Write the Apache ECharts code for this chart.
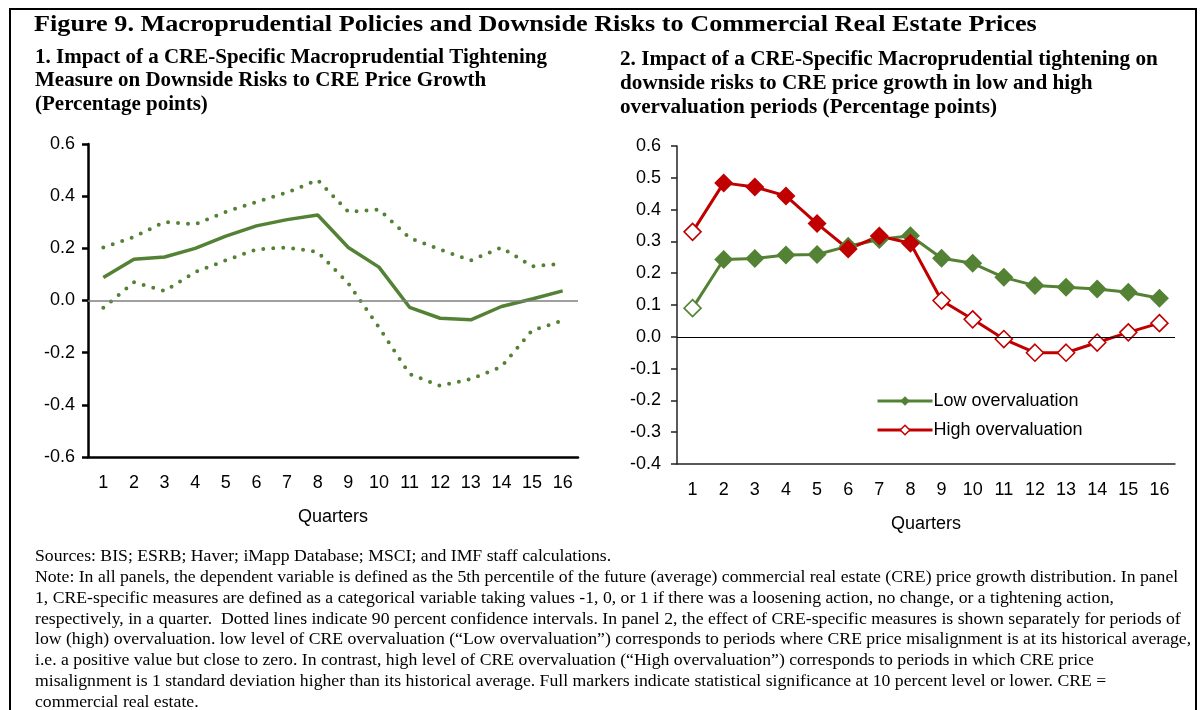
<!DOCTYPE html>
<html>
<head>
<meta charset="utf-8">
<script src="https://cdn.jsdelivr.net/npm/echarts@6/dist/echarts.min.js"></script>
<style>html,body{margin:0;padding:0;background:#fff}#c{width:1204px;height:710px}</style>
</head>
<body>
<div id="c"></div>
<script>
const quarters = ['1','2','3','4','5','6','7','8','9','10','11','12','13','14','15','16'];
// Panel 1
const impact  = [0.088,0.158,0.167,0.200,0.247,0.286,0.310,0.328,0.203,0.128,-0.026,-0.068,-0.074,-0.023,0.006,0.037];
const upperCI = [0.203,0.244,0.301,0.292,0.340,0.378,0.414,0.462,0.340,0.349,0.240,0.195,0.154,0.203,0.131,0.141];
const lowerCI = [-0.028,0.070,0.036,0.109,0.154,0.196,0.203,0.186,0.066,-0.103,-0.282,-0.327,-0.301,-0.254,-0.115,-0.077];
// Panel 2
const lowOver  = [0.090,0.243,0.246,0.257,0.259,0.285,0.306,0.318,0.247,0.231,0.187,0.161,0.156,0.150,0.140,0.121];
const highOver = [0.330,0.484,0.471,0.443,0.356,0.276,0.317,0.294,0.114,0.055,-0.007,-0.050,-0.050,-0.018,0.014,0.043];
const lowSig  = [0,1,1,1,1,1,1,1,1,1,1,1,1,1,1,1];
const highSig = [0,1,1,1,1,1,1,1,0,0,0,0,0,0,0,0];

const GREEN = '#548235', RED = '#C00000';
const chart = echarts.init(document.getElementById('c'));

function markData(vals, sig, color) {
  return vals.map((v, i) => sig[i]
    ? { value: v }
    : { value: v, symbolSize: 17, itemStyle: { color: '#fff', borderColor: color, borderWidth: 1.6 } });
}

const axisFont = { fontFamily: 'Liberation Sans', fontSize: 18, color: '#000' };
const fmt = v => v.toFixed(1);
const sans = 'Liberation Sans';

const noteLines = [
  'Sources: BIS; ESRB; Haver; iMapp Database; MSCI; and IMF staff calculations.',
  'Note: In all panels, the dependent variable is defined as the 5th percentile of the future (average) commercial real estate (CRE) price growth distribution. In panel',
  '1, CRE-specific measures are defined as a categorical variable taking values -1, 0, or 1 if there was a loosening action, no change, or a tightening action,',
  'respectively, in a quarter.  Dotted lines indicate 90 percent confidence intervals. In panel 2, the effect of CRE-specific measures is shown separately for periods of',
  'low (high) overvaluation. low level of CRE overvaluation (\u201cLow overvaluation\u201d) corresponds to periods where CRE price misalignment is at its historical average,',
  'i.e. a positive value but close to zero. In contrast, high level of CRE overvaluation (\u201cHigh overvaluation\u201d) corresponds to periods in which CRE price',
  'misalignment is 1 standard deviation higher than its historical average. Full markers indicate statistical significance at 10 percent level or lower. CRE =',
  'commercial real estate.'
];
const noteY = [557, 578, 599, 620, 640, 661, 682, 703];

const leftSub = ['1. Impact of a CRE-Specific Macroprudential Tightening', 'Measure on Downside Risks to CRE Price Growth', '(Percentage points)'];
const leftSubY = [58, 81, 105];
const rightSub = ['2. Impact of a CRE-Specific Macroprudential tightening on', 'downside risks to CRE price growth in low and high', 'overvaluation periods (Percentage points)'];
const rightSubY = [60, 84, 108];

function txt(x, y, t, font, sx) {
  return { type: 'text', x: x, y: y, scaleX: sx, silent: true, style: { text: t, font: font, fill: '#000', verticalAlign: 'middle', align: 'left' } };
}

const graphics = [
  { type: 'rect', shape: { x: 10, y: 9, width: 1186, height: 760 }, style: { fill: 'none', stroke: '#000', lineWidth: 2 }, silent: true },
  txt(34, 25, 'Figure 9. Macroprudential Policies and Downside Risks to Commercial Real Estate Prices', 'bold 24px "Liberation Serif"', 26.2 / 24)
];
leftSub.forEach((t, i) => graphics.push(txt(35, leftSubY[i], t, 'bold 20px "Liberation Serif"', 21 / 20)));
rightSub.forEach((t, i) => graphics.push(txt(620, rightSubY[i], t, 'bold 20px "Liberation Serif"', 21.2 / 20)));
noteLines.forEach((t, i) => graphics.push(txt(35, noteY[i], t, '16.6px "Liberation Serif"', 17.7 / 16.6)));

chart.setOption({
  animation: false,
  backgroundColor: '#fff',
  graphic: graphics,
  grid: [
    { left: 88, right: 626, top: 144, bottom: 253 },
    { left: 677, right: 29, top: 146, bottom: 246 }
  ],
  legend: {
    left: 871, top: 387, orient: 'vertical', itemGap: 11, itemWidth: 55, itemHeight: 12,
    textStyle: { fontFamily: sans, fontSize: 18, color: '#000', padding: [0, 0, 0, -4] },
    data: [
      { name: 'Low overvaluation', lineStyle: { width: 3, color: GREEN } },
      { name: 'High overvaluation', lineStyle: { width: 3, color: RED }, itemStyle: { color: '#fff', borderColor: RED, borderWidth: 1.5 } }
    ]
  },
  xAxis: [
    { gridIndex: 0, type: 'category', data: quarters, boundaryGap: true,
      axisLine: { onZero: false, lineStyle: { color: '#000', width: 2.5 } },
      axisTick: { inside: true, length: 6, lineStyle: { color: '#000', width: 2.5 } },
      axisLabel: Object.assign({ margin: 17 }, axisFont),
      name: 'Quarters', nameLocation: 'middle', nameGap: 51, nameTextStyle: axisFont },
    { gridIndex: 1, type: 'category', data: quarters, boundaryGap: true,
      axisLine: { onZero: false, lineStyle: { color: '#222', width: 1.5 } },
      axisTick: { inside: true, length: 6, lineStyle: { color: '#222', width: 1.5 } },
      axisLabel: Object.assign({ margin: 17 }, axisFont),
      name: 'Quarters', nameLocation: 'middle', nameGap: 51, nameTextStyle: axisFont }
  ],
  yAxis: [
    { gridIndex: 0, type: 'value', min: -0.6, max: 0.6, interval: 0.2,
      axisLine: { show: true, lineStyle: { color: '#000', width: 2.5 } },
      axisTick: { show: true, length: 6, lineStyle: { color: '#000', width: 2.5 } },
      splitLine: { show: false },
      axisLabel: Object.assign({ margin: 13, formatter: fmt }, axisFont) },
    { gridIndex: 1, type: 'value', min: -0.4, max: 0.6, interval: 0.1,
      axisLine: { show: true, lineStyle: { color: '#222', width: 1.5 } },
      axisTick: { show: true, length: 6, lineStyle: { color: '#222', width: 1.5 } },
      splitLine: { show: false },
      axisLabel: Object.assign({ margin: 16, formatter: fmt }, axisFont) }
  ],
  series: [
    { name: 'Upper CI', type: 'line', xAxisIndex: 0, yAxisIndex: 0, data: upperCI, symbol: 'none', silent: true,
      lineStyle: { color: GREEN, width: 4, type: [0, 10], cap: 'round' },
      markLine: { silent: true, symbol: 'none', label: { show: false }, lineStyle: { color: '#7f7f7f', width: 1.5, type: 'solid' }, data: [{ yAxis: 0 }] } },
    { name: 'Lower CI', type: 'line', xAxisIndex: 0, yAxisIndex: 0, data: lowerCI, symbol: 'none', silent: true,
      lineStyle: { color: GREEN, width: 4, type: [0, 10], cap: 'round' } },
    { name: 'Impact', type: 'line', xAxisIndex: 0, yAxisIndex: 0, data: impact, symbol: 'none', silent: true,
      lineStyle: { color: GREEN, width: 3.5 } },
    { name: 'Low overvaluation', type: 'line', xAxisIndex: 1, yAxisIndex: 1, data: markData(lowOver, lowSig, GREEN),
      symbol: 'diamond', symbolSize: 19, itemStyle: { color: GREEN }, lineStyle: { color: GREEN, width: 3 },
      markLine: { silent: true, symbol: 'none', label: { show: false }, lineStyle: { color: '#000', width: 1, type: 'solid' }, data: [{ yAxis: 0 }] } },
    { name: 'High overvaluation', type: 'line', xAxisIndex: 1, yAxisIndex: 1, data: markData(highOver, highSig, RED),
      symbol: 'diamond', symbolSize: 19, itemStyle: { color: RED }, lineStyle: { color: RED, width: 3 } }
  ]
});
</script>
</body>
</html>
